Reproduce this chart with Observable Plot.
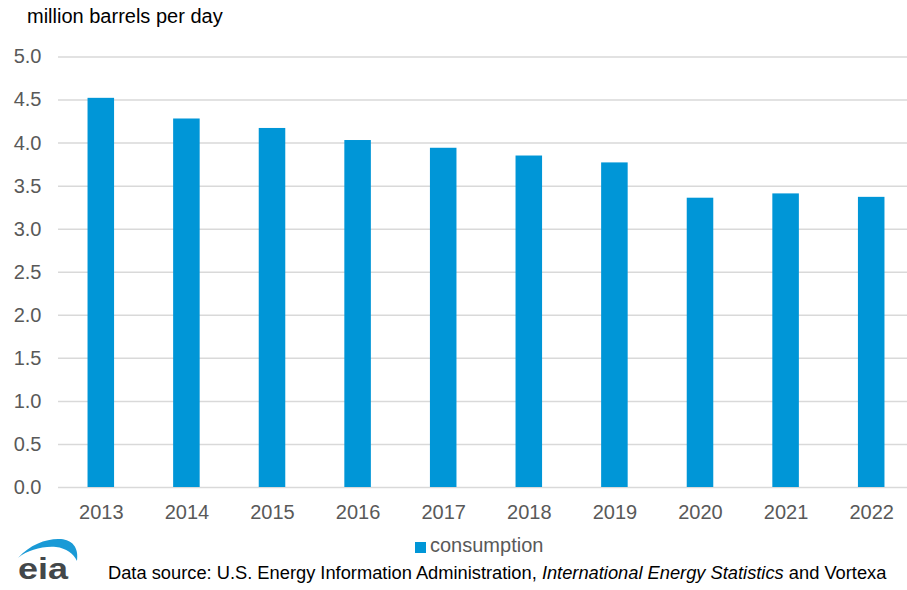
<!DOCTYPE html>
<html>
<head>
<meta charset="utf-8">
<script src="https://cdn.jsdelivr.net/npm/d3@7"></script>
<script src="https://cdn.jsdelivr.net/npm/@observablehq/plot@0.6"></script>
<style>
  html, body { margin: 0; padding: 0; background: #fff; }
  #wrap { position: relative; width: 907px; height: 590px; overflow: hidden; font-family: "Liberation Sans", Arial, sans-serif; }
  #chart { position: absolute; left: 0; top: 0; }
  #title { position: absolute; left: 27px; top: 5px; font-size: 20px; color: #000; white-space: nowrap; }
  #legend { position: absolute; left: 415px; top: 534px; font-size: 20px; color: #595959; white-space: nowrap; display: flex; align-items: center; }
  #legend .sw { width: 11px; height: 11px; background: #0096d7; margin-right: 4px; margin-top: 3px; }
  #source { position: absolute; left: 108px; top: 562px; font-size: 18.3px; color: #000; white-space: nowrap; }
  #logo { position: absolute; left: 0; top: 525px; }
</style>
</head>
<body>
<div id="wrap">
  <div id="chart"></div>
  <div id="title">million barrels per day</div>
  <div id="legend"><span class="sw"></span><span>consumption</span></div>
  <svg id="logo" width="100" height="65" viewBox="0 0 100 65">
    <path d="M18,33 C30,19 48,13 61,14 C72,15 79,22 77,36 C74,29 66,23 56,22 C42,21 28,25 18,33 Z" fill="#1a9ad6"/>
    <text x="18" y="54" font-family="Liberation Sans, Arial, sans-serif" font-size="29" font-weight="bold" fill="#43474a" textLength="50" lengthAdjust="spacingAndGlyphs">eia</text>
  </svg>
  <div id="source">Data source: U.S. Energy Information Administration, <i>International Energy Statistics</i> and Vortexa</div>
</div>
<script>
const years = ["2013","2014","2015","2016","2017","2018","2019","2020","2021","2022"];
const consumption = [4.52, 4.28, 4.17, 4.03, 3.94, 3.85, 3.77, 3.36, 3.41, 3.37];
const yTicks = [0, 0.5, 1, 1.5, 2, 2.5, 3, 3.5, 4, 4.5, 5];

const data = years.map((year, i) => ({year, value: consumption[i]}));

const chart = Plot.plot({
  width: 907,
  height: 530,
  marginTop: 56.5,
  marginBottom: 43,
  marginLeft: 58,
  marginRight: 0,
  style: {fontFamily: "'Liberation Sans', Arial, sans-serif", fontSize: "20px", color: "#595959", background: "transparent"},
  x: {domain: years, range: [58, 914], paddingInner: 0.69, paddingOuter: 0.345, round: false, label: null},
  y: {domain: [0, 5], label: null},
  marks: [
    Plot.ruleY(yTicks, {stroke: "#d9d9d9", strokeWidth: 1.5}),
    Plot.barY(data, {x: "year", y: "value", fill: "#0096d7"}),
    Plot.axisY(yTicks, {tickSize: 0, tickPadding: 17, tickFormat: d3.format(".1f"), label: null}),
    Plot.axisX({tickSize: 0, tickPadding: 17, label: null})
  ]
});
document.getElementById("chart").appendChild(chart);
</script>
</body>
</html>
